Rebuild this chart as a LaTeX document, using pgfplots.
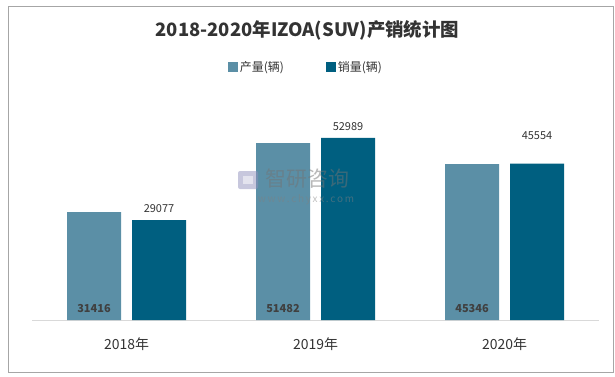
\documentclass[border=0pt]{standalone}
\usepackage{fontspec}
\setmainfont{Noto Sans CJK SC}
\usepackage{pgfplots}
\pgfplotsset{compat=1.18}
\usepackage{pgfplotstable}
\definecolor{prodc}{HTML}{5B8FA6}
\definecolor{salec}{HTML}{005F80}
\definecolor{txt}{HTML}{333333}
\pgfplotstableread{
x y yk
0 31416 31.416
1 51482 51.482
2 45346 45.346
}\prod
\pgfplotstableread{
x y extra
0 29077 0
1 52989 0
2 45554 16.5
}\sale
\begin{document}
\begin{tikzpicture}[x=1bp,y=1bp]
\path (0,0) rectangle (615,376);
\draw[color=black!35, line width=1bp] (8,4) rectangle (613,369);
\node[font=\fontsize{18.5}{20}\selectfont\bfseries, text=txt] at (307.5,346) {2018-2020年IZOA(SUV)产销统计图};
\begin{axis}[
  at={(32bp,56bp)}, anchor=south west,
  scale only axis, width=567bp, height=225bp,
  xmin=-0.5, xmax=2.5, ymin=0, ymax=65500,
  axis y line=none, axis x line*=bottom,
  x axis line style={draw=black!15, line width=1bp, -},
  xtick={0,1,2}, xticklabels={2018年,2019年,2020年},
  xtick style={draw=none},
  x tick label style={font=\fontsize{14}{16}\selectfont, text=txt, yshift=-10bp},
  ybar, bar width=54bp,
  /pgf/number format/.cd, 1000 sep={}, int detect, assume math mode=true,
  /pgfplots/.cd,
  legend style={at={(0.483,1.124)}, anchor=center, draw=none, legend columns=2,
    font=\fontsize{12}{14}\selectfont, text=txt,
    /tikz/every even column/.append style={column sep=40bp}},
  legend image code/.code={\fill[#1] (0bp,-4.5bp) rectangle (10bp,5bp);},
]
\addplot[fill=prodc, draw=none, bar shift=-32.5bp,
  visualization depends on=\thisrow{yk} \as \rawy,
  nodes near coords,
  every node near coord/.append style={font=\fontsize{11}{13}\selectfont\bfseries, text=black!75, anchor=center,
    yshift={-\rawy/65.5*225+11}}
  ] table[x=x,y=y] {\prod};
\addlegendentry{产量(辆)}
\addplot[fill=salec, draw=none, bar shift=32.5bp,
  visualization depends on=\thisrow{extra} \as \ext,
  nodes near coords,
  every node near coord/.append style={font=\fontsize{11}{13}\selectfont, text=txt, anchor=south, inner sep=0pt,
    yshift={7+\ext}}
  ] table[x=x,y=y] {\sale};
\addlegendentry{销量(辆)}
\end{axis}
\begin{scope}[opacity=0.5]
\fill[blue!25!gray!70, rounded corners=2bp] (238,187) rectangle (258,205);
\fill[white] (243,192) rectangle (253,200);
\node[font=\fontsize{21}{23}\selectfont, text=black!55, anchor=west] at (262,197) {智研咨询};
\node[font=\fontsize{10}{12}\selectfont, text=black!50] at (306,176) {w\,w\,w\,.\,c\,h\,y\,x\,x\,.\,c\,o\,m};
\end{scope}
\end{tikzpicture}
\end{document}
